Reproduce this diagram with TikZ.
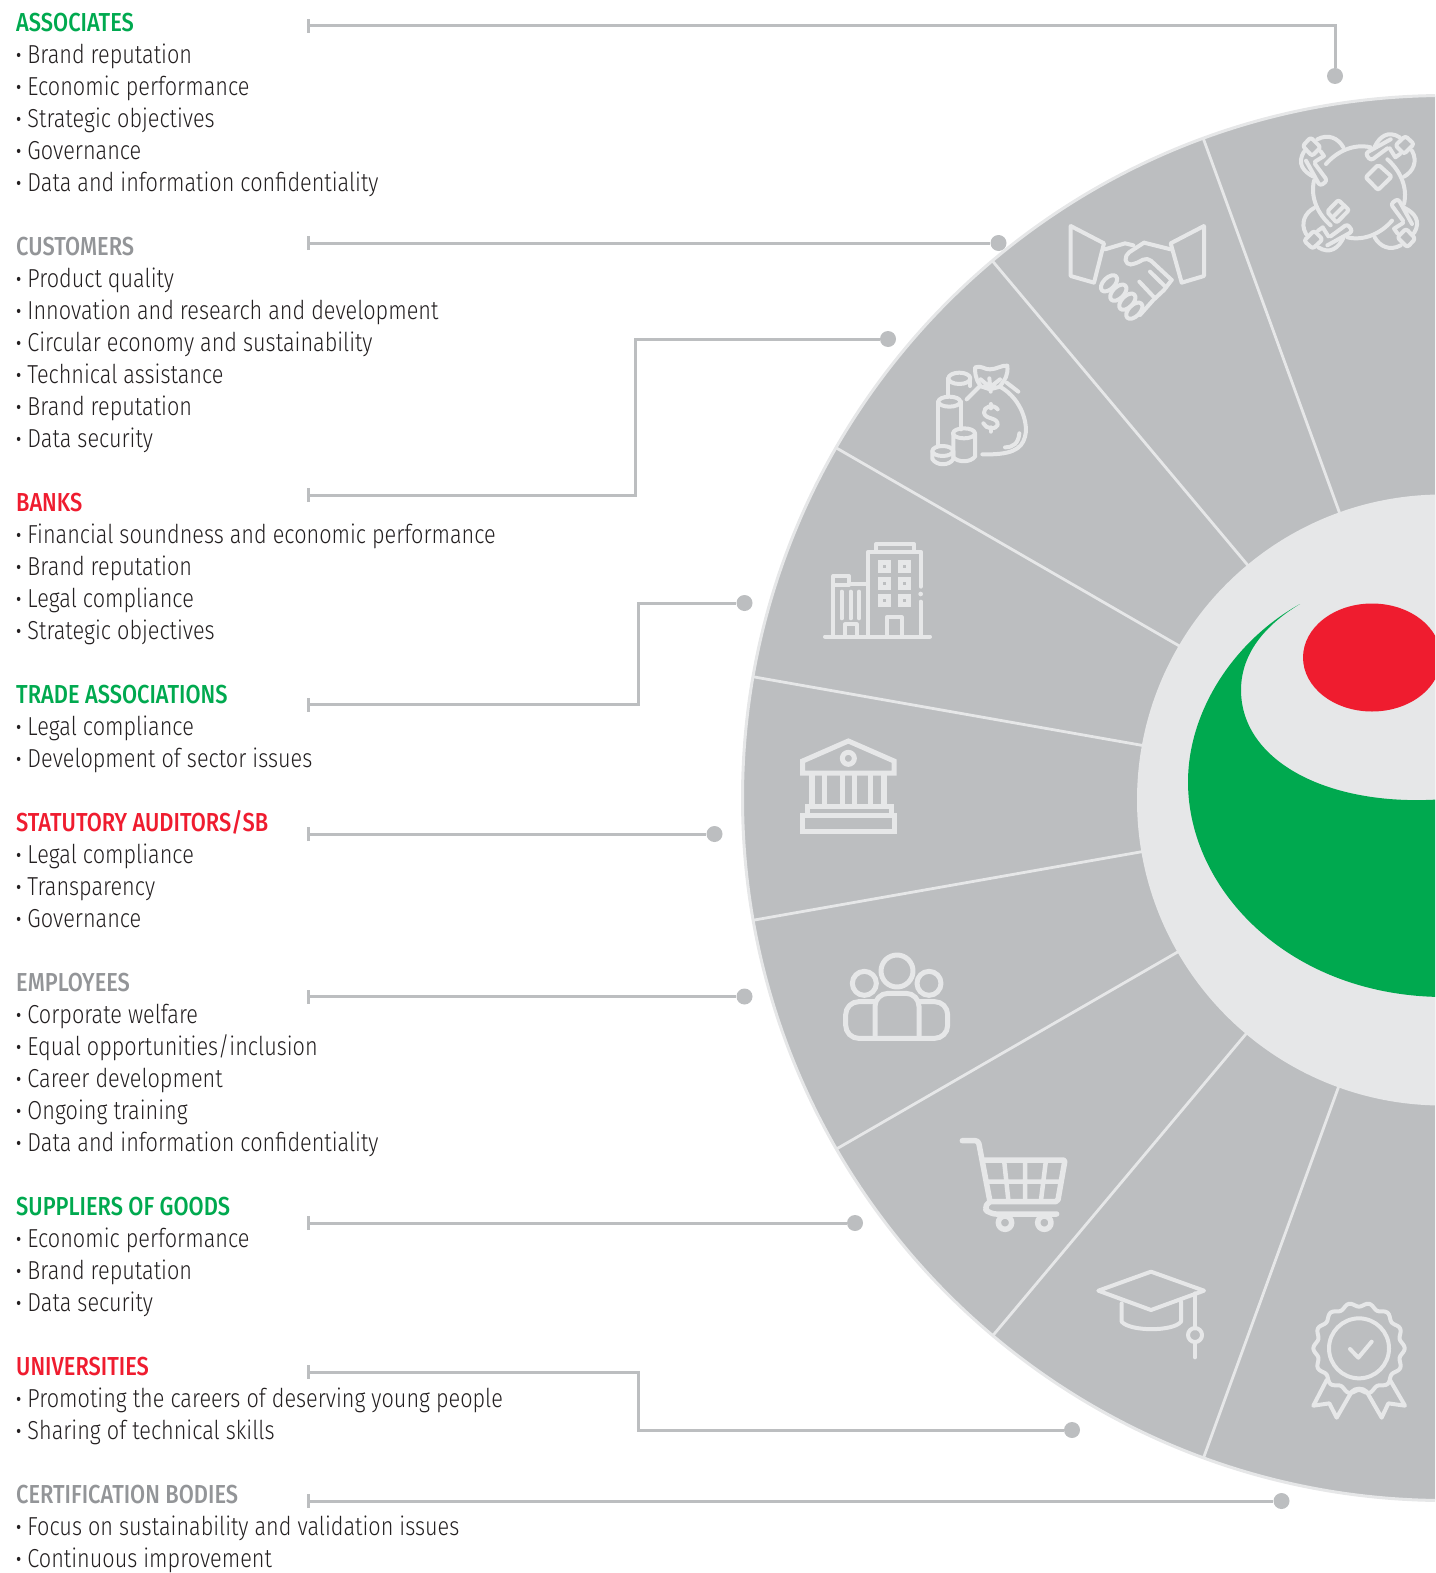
\documentclass[tikz,border=0pt]{standalone}
\usepackage{fontspec}
\usetikzlibrary{arrows.meta}
\newfontfamily\bodyf{Fira Sans Light}[FakeStretch=0.833]
\newfontfamily\headf{Fira Sans Medium}[FakeStretch=0.84]
\definecolor{discgrey}{HTML}{BCBEC0}
\definecolor{lightgrey}{HTML}{E6E7E8}
\definecolor{brandgreen}{HTML}{00A94F}
\definecolor{brandred}{HTML}{EF1C2F}
\definecolor{headgrey}{HTML}{939598}
\definecolor{bodytext}{HTML}{231F20}
\newcommand{\hd}[2]{{\headf\color{#1}\rule{0pt}{24pt}#2}}
\newcommand{\bl}{{\headf ·} }
\tikzset{
  block/.style={anchor=north west,inner sep=0pt,align=left,text=bodytext,font=\bodyf\fontsize{26}{32}\selectfont},
  conn/.style={draw=discgrey,line width=3pt,{Bar[width=14pt,length=3pt]}-},
  dotend/.style={circle,fill=discgrey,inner sep=0pt,minimum size=16pt},
  divider/.style={draw=lightgrey,line width=2.8pt},
  icon/.style={draw=lightgrey,line width=4pt,line cap=round,line join=round},
  zoomed/.style={x=0.33333pt,y=-0.33333pt,icon},
}
\begin{document}
\begin{tikzpicture}[x=1pt,y=-1pt]
\path[use as bounding box,clip] (0,0) rectangle (1435,1573);
\coordinate (c) at (1445,798);
\coordinate (h) at (1442.5,800);
\coordinate (sp) at (1443.5,798.5);
% wheel
\fill[discgrey] (c) circle (702.5);
\draw[lightgrey,line width=3pt] (c) circle (702.5);
\foreach \a in {110,130,150,170,190,210,230,250}
  \draw[divider] ([shift={(\a:300)}]sp) -- ([shift={(\a:702)}]sp);
\fill[lightgrey] (h) circle (305.5);
% green swoosh
\fill[brandgreen] (1300,604) .. controls (1235,640) and (1188,710) .. (1188,782)
  .. controls (1188,890) and (1290,997) .. (1445,997)
  -- (1445,799) .. controls (1330,808) and (1241,762) .. (1241,690)
  .. controls (1241,650) and (1270,622) .. (1300,604) -- cycle;
\fill[brandred] (1372,657.5) ellipse [x radius=69,y radius=54];
% text blocks
\node[block] (associates) at (16,7.5) {\hd{brandgreen}{ASSOCIATES}\\\bl Brand reputation\\\bl Economic performance\\\bl Strategic objectives\\\bl Governance\\\bl Data and information confidentiality};
\node[block] (customers) at (16,231.5) {\hd{headgrey}{CUSTOMERS}\\\bl Product quality\\\bl Innovation and research and development\\\bl Circular economy and sustainability\\\bl Technical assistance\\\bl Brand reputation\\\bl Data security};
\node[block] (banks) at (16,487.5) {\hd{brandred}{BANKS}\\\bl Financial soundness and economic performance\\\bl Brand reputation\\\bl Legal compliance\\\bl Strategic objectives};
\node[block] (trade) at (16,679.5) {\hd{brandgreen}{TRADE ASSOCIATIONS}\\\bl Legal compliance\\\bl Development of sector issues};
\node[block] (auditors) at (16,807.5) {\hd{brandred}{STATUTORY AUDITORS/SB}\\\bl Legal compliance\\\bl Transparency\\\bl Governance};
\node[block] (employees) at (16,967.5) {\hd{headgrey}{EMPLOYEES}\\\bl Corporate welfare\\\bl Equal opportunities/inclusion\\\bl Career development\\\bl Ongoing training\\\bl Data and information confidentiality};
\node[block] (suppliers) at (16,1191.5) {\hd{brandgreen}{SUPPLIERS OF GOODS}\\\bl Economic performance\\\bl Brand reputation\\\bl Data security};
\node[block] (universities) at (16,1351.5) {\hd{brandred}{UNIVERSITIES}\\\bl Promoting the careers of deserving young people\\\bl Sharing of technical skills};
\node[block] (certification) at (16,1479.5) {\hd{headgrey}{CERTIFICATION BODIES}\\\bl Focus on sustainability and validation issues\\\bl Continuous improvement};
% connector ends
\coordinate (s1) at (307,26);
\coordinate (s2) at (307,243);
\coordinate (s3) at (307,495);
\coordinate (s4) at (307,704.5);
\coordinate (s5) at (307,834);
\coordinate (s6) at (307,996.5);
\coordinate (s7) at (307,1223);
\coordinate (s8) at (307,1372);
\coordinate (s9) at (307,1501);
\coordinate (m3) at (635,400);
\coordinate (m4) at (638,650);
\coordinate (m8) at (638,1400);
\node[dotend] (d1) at (1335,76) {};
\node[dotend] (d2) at (998.5,243) {};
\node[dotend] (d3) at (888,339) {};
\node[dotend] (d4) at (744.5,603) {};
\node[dotend] (d5) at (714.5,834) {};
\node[dotend] (d6) at (744.5,996.5) {};
\node[dotend] (d7) at (855,1223) {};
\node[dotend] (d8) at (1072,1430) {};
\node[dotend] (d9) at (1281.5,1501) {};
\draw[conn] (s1) -| (d1);
\draw[conn] (s2) -- (d2);
\draw[conn] (s3) -| (m3) |- (d3);
\draw[conn] (s4) -| (m4) |- (d4);
\draw[conn] (s5) -- (d5);
\draw[conn] (s6) -- (d6);
\draw[conn] (s7) -- (d7);
\draw[conn] (s8) -| (m8) |- (d8);
\draw[conn] (s9) -- (d9);
% icon 1: round table with hands
\begin{scope}[shift={(1180,60)},zoomed]
  \foreach \r in {0,-90,-180,-270}{
    \begin{scope}[rotate around={\r:(537,397)}]
      \draw[rounded corners=2.5pt] (368,258) -- (392,232) -- (422,262) -- (396,288) -- cycle;
      \draw[rounded corners=3pt] (378,302) -- (420,378) -- (442,362) -- (405,312);
      \draw (412,238) .. controls (445,220) and (475,235) .. (490,262);
      \draw (372,275) .. controls (350,310) and (370,335) .. (400,350);
      \draw (405,305) -- (432,288) -- (422,274);
      \draw (438,312) .. controls (470,275) and (520,250) .. (572,262);
    \end{scope}
  }
  \draw[rounded corners=2pt] (595,314) -- (635,350) -- (594,390) -- (557,352) -- cycle;
  \draw[rounded corners=2pt] (475,420) -- (507,450) -- (470,488) -- (441,455) -- cycle;
  \draw (460,470) -- (490,440);
\end{scope}
% icon 2: handshake
\begin{scope}[shift={(1040,200)},zoomed]
  \tikzset{line width=4.5pt}
  \draw (92,78) -- (192,130) -- (162,248) -- (92,228) -- cycle;
  \draw (492,78) -- (392,130) -- (425,248) -- (492,228) -- cycle;
  \draw (195,148) -- (255,130) -- (280,136);
  \draw[rounded corners=5pt] (312,128) -- (255,165) -- (258,195) -- (285,192) -- (322,172) -- (395,240);
  \draw (312,128) -- (392,148);
  \draw (298,245) -- (345,295);
  \draw (330,215) -- (378,262);
  \draw (395,240) -- (372,270) -- (340,300) -- (300,345);
  \foreach \p in {(207,250),(235,278),(262,305),(283,332)}
    \draw[rotate around={45:\p}] \p ellipse [x radius=30,y radius=17];
\end{scope}
% icon 3: money bag and coins
\begin{scope}[shift={(900,350)},zoomed]
  \tikzset{line width=3.6pt}
  \draw (178,85) ellipse [x radius=33,y radius=17];
  \draw (145,85) -- (145,135) (210,85) -- (210,108);
  \draw (148,155) ellipse [x radius=33,y radius=15];
  \draw (115,155) -- (115,285) (183,155) -- (183,238);
  \draw (192,250) ellipse [x radius=33,y radius=15];
  \draw (160,250) -- (160,322) (225,250) -- (225,320) (160,322) .. controls (175,338) and (210,338) .. (225,320);
  \draw (128,303) ellipse [x radius=31,y radius=15];
  \draw (97,303) -- (97,327) (160,303) -- (160,327) (97,327) .. controls (110,348) and (148,348) .. (160,327);
  \draw (200,148) -- (240,108);
  \draw (300,110) .. controls (370,150) and (385,230) .. (375,260) .. controls (365,300) and (330,315) .. (247,313);
  \draw (358,250) .. controls (355,280) and (340,292) .. (315,292);
  \draw (240,105) .. controls (225,85) and (225,65) .. (225,52) .. controls (245,45) and (255,60) .. (270,58) .. controls (290,58) and (305,45) .. (322,47) .. controls (325,75) and (315,90) .. (300,108);
  \draw (240,108) -- (270,118) -- (300,110) (268,85) -- (272,125) (242,88) -- (270,112) -- (300,88) (320,98) -- (355,125);
  \draw (293,178) .. controls (280,160) and (250,170) .. (252,188) .. controls (255,210) and (295,200) .. (293,225) .. controls (288,240) and (258,238) .. (250,220);
  \draw (272,162) -- (272,175) (272,232) -- (272,245);
\end{scope}
% icon 4: buildings
\begin{scope}[shift={(800,530)},zoomed]
  \draw (75,320) -- (390,320);
  \draw (205,320) -- (205,65) -- (362,65) -- (362,170) (362,215) -- (362,320);
  \fill[lightgrey] (362,192) circle (7);
  \draw (228,65) -- (228,42) -- (342,42) -- (342,65);
  \foreach \x in {253,312} \foreach \y in {110,160,212}
    \draw[line width=5pt,line join=miter] (\x-12,\y-12) rectangle (\x+12,\y+12);
  \draw (260,320) -- (260,262) -- (305,262) -- (305,320);
  \draw (100,320) -- (100,138) -- (147,138) -- (147,162) -- (203,162) (100,165) -- (147,165);
  \draw (125,185) -- (125,265) (152,185) -- (152,265) (177,185) -- (177,265);
  \draw (135,320) -- (135,283) -- (170,283) -- (170,320);
\end{scope}
% icon 5: institution
\begin{scope}[shift={(780,725)},zoomed]
  \draw[line width=5pt,line cap=butt,line join=miter] (68,108) -- (205,48) -- (342,108) -- (342,144) -- (68,144) -- cycle;
  \draw[line width=5pt] (205,100) circle (18);
  \foreach \x in {96,134,187,224,272,312}
    \draw[line width=5.5pt,line cap=butt] (\x,150) -- (\x,240);
  \draw[line width=5pt,line cap=butt,line join=miter] (82,245) rectangle (334,272);
  \draw[line width=5pt,line cap=butt,line join=miter] (68,272) rectangle (342,320);
\end{scope}
% icon 6: people
\begin{scope}[shift={(825,935)},zoomed]
  \draw[line width=5pt] (216,108) circle (48);
  \draw[line width=5pt] (118,145) circle (36);
  \draw[line width=5pt] (312,145) circle (36);
  \draw[line width=5pt,rounded corners=13pt] (150,308) -- (150,175) -- (282,175) -- (282,308);
  \draw[line width=5pt,rounded corners=13pt] (150,200) -- (62,200) -- (62,310) -- (368,310) -- (368,200) -- (282,200);
\end{scope}
% icon 7: cart
\begin{scope}[shift={(945,1120)},zoomed]
  \draw[line width=5.5pt,rounded corners=3pt] (52,62) -- (100,62) -- (135,245);
  \draw[line width=5.5pt,rounded corners=2pt] (118,120) -- (360,120) -- (338,245) -- (135,245);
  \draw[line width=4.5pt] (128,185) -- (350,185) (178,128) -- (190,240) (240,128) -- (240,240) (302,128) -- (288,240);
  \draw[line width=5.5pt,rounded corners=6pt] (135,245) -- (115,262) -- (135,282) -- (335,282);
  \draw[line width=5.5pt] (180,308) circle (20) (298,308) circle (20);
\end{scope}
% icon 8: graduation cap
\begin{scope}[shift={(1080,1250)},zoomed]
  \tikzset{line width=5pt}
  \draw (55,122) -- (213,65) -- (372,122) -- (213,180) -- cycle;
  \draw (125,160) -- (125,215) .. controls (150,245) and (280,245) .. (303,215) -- (303,155);
  \draw (345,130) -- (345,235) (345,278) -- (345,322);
  \draw (345,255) circle (21);
\end{scope}
% icon 9: rosette
\begin{scope}[shift={(1290,1285)},zoomed]
  \tikzset{line width=4.5pt}
  \draw plot[domain=0:360,samples=141,smooth] ([shift={(\x:{131+6*cos(14*\x)})}]207,190);
  \draw (207,190) circle (90);
  \draw (180,192) -- (205,218) -- (245,170);
  \draw (110,285) -- (70,362) -- (118,355) -- (140,398) -- (185,320) .. controls (195,308) and (220,308) .. (230,320) -- (275,398) -- (295,355) -- (345,362) -- (300,285);
\end{scope}
\end{tikzpicture}
\end{document}
